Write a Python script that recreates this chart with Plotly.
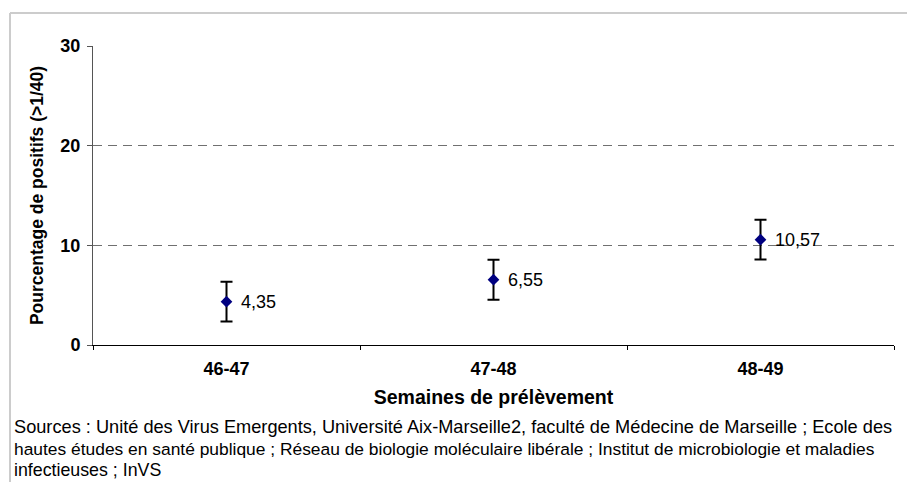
import plotly.graph_objects as go

# ---- data ----
categories = ["46-47", "47-48", "48-49"]
values = [4.35, 6.55, 10.57]
err_plus = [2.0, 2.0, 2.0]
err_minus = [2.0, 2.0, 2.0]
y_ticks = [0, 10, 20, 30]
x_title = "Semaines de prélèvement"
y_title = "Pourcentage de positifs (>1/40)"
source_lines = [
    "Sources : Unité des Virus Emergents, Université Aix-Marseille2, faculté de Médecine de Marseille ; Ecole des",
    "hautes études en santé publique ; Réseau de biologie moléculaire libérale ; Institut de microbiologie et maladies",
    "infectieuses ; InVS",
]
point_labels = [f"{v:.2f}".replace(".", ",") for v in values]

# ---- styles / layout geometry ----
W, H = 907, 482
L, R, T, B = 93, 13, 46, 137
PW, PH = W - L - R, H - T - B
source_sizes = [18.2, 17.4, 17.8]


def px_x(p):
    return (p - L) / PW


def px_y(p):
    return (H - B - p) / PH


FONT = "Liberation Sans, Arial, sans-serif"

fig = go.Figure()
fig.add_trace(go.Scatter(
    x=categories,
    y=values,
    mode="markers",
    marker=dict(symbol="diamond", size=9, color="#000080"),
    error_y=dict(type="data", symmetric=False, array=err_plus, arrayminus=err_minus,
                 color="#000000", thickness=2, width=6),
    cliponaxis=False,
    showlegend=False,
))

shapes = [
    dict(type="line", xref="paper", yref="paper", x0=px_x(10), x1=px_x(W + 5),
         y0=px_y(13), y1=px_y(13), line=dict(color="#cccccc", width=2)),
    dict(type="line", xref="paper", yref="paper", x0=px_x(10), x1=px_x(10),
         y0=px_y(13), y1=px_y(H + 5), line=dict(color="#cccccc", width=2)),
]

annotations = []
for cat, val, lab in zip(categories, values, point_labels):
    annotations.append(dict(
        text=lab, x=cat, y=val, xref="x", yref="y",
        xanchor="left", yanchor="middle", xshift=12, showarrow=False,
        font=dict(family=FONT, size=18, color="#000000"),
    ))
for i, line in enumerate(source_lines):
    annotations.append(dict(
        text=line, xref="paper", yref="paper", x=px_x(12), y=px_y(427 + i * 21.5),
        xanchor="left", yanchor="middle", showarrow=False,
        font=dict(family=FONT, size=source_sizes[i], color="#000000"),
    ))

fig.update_layout(
    width=W, height=H,
    margin=dict(l=L, r=R, t=T, b=B, pad=0),
    paper_bgcolor="#ffffff",
    plot_bgcolor="#ffffff",
    font=dict(family=FONT, size=18, color="#000000"),
    shapes=shapes,
    annotations=annotations,
    xaxis=dict(
        type="category",
        range=[-0.5, 2.5],
        tickson="boundaries",
        ticks="outside", ticklen=4, tickcolor="#000000", tickwidth=1,
        ticklabelstandoff=7,
        showline=True, linecolor="#000000", linewidth=1,
        showgrid=False, zeroline=False,
        tickfont=dict(family=FONT, size=18, color="#000000", weight="bold"),
        title=dict(text=x_title, standoff=12,
                   font=dict(family=FONT, size=19.5, color="#000000", weight="bold")),
    ),
    yaxis=dict(
        range=[0, 30],
        tickvals=y_ticks,
        ticks="outside", ticklen=5, tickcolor="#555555", tickwidth=1,
        ticklabelstandoff=3,
        showline=True, linecolor="#555555", linewidth=1,
        showgrid=True, gridcolor="#707070", gridwidth=1, griddash="9px,6px",
        zeroline=False,
        tickfont=dict(family=FONT, size=18, color="#000000", weight="bold"),
        title=dict(text=y_title, standoff=12,
                   font=dict(family=FONT, size=17.5, color="#000000", weight="bold")),
    ),
)

fig.write_html("out.html", config={"displayModeBar": False},
               post_script="document.body.style.margin='0px';")
